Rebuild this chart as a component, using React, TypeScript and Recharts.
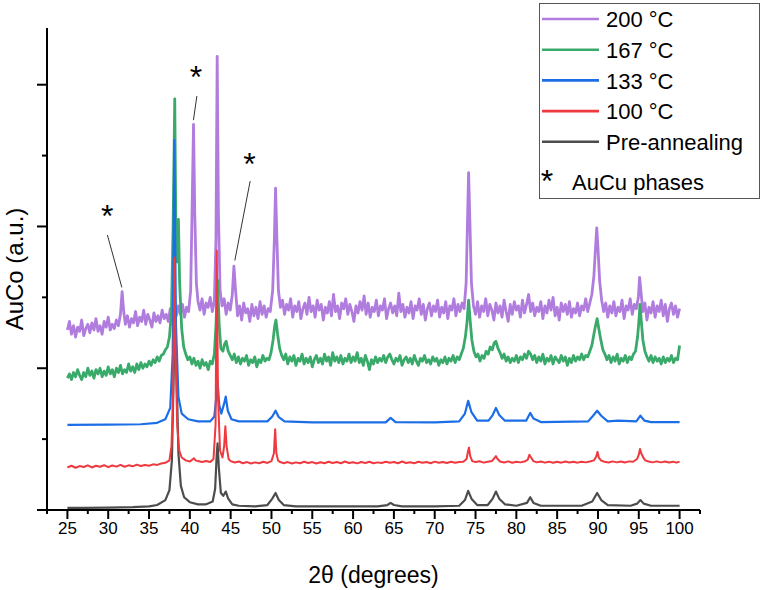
import { LineChart, Line, XAxis, YAxis, Legend, ReferenceLine, ReferenceDot, Label } from 'recharts';

const FONT = "'Liberation Sans', Arial, sans-serif";

// [2θ, intensity] pairs, curves already offset (a.u.)
const t200: [number, number][] = [
  [25, 1.27], [25.25, 1.33], [25.5, 1.24], [25.75, 1.3], [26, 1.22], [26.25, 1.29], [26.5, 1.26], [26.75, 1.34],
  [27, 1.23], [27.25, 1.28], [27.5, 1.31], [27.75, 1.25], [28, 1.32], [28.25, 1.27], [28.5, 1.35], [28.75, 1.26],
  [29, 1.3], [29.25, 1.24], [29.5, 1.33], [29.75, 1.29], [30, 1.36], [30.25, 1.27], [30.5, 1.31], [30.75, 1.28],
  [31, 1.34], [31.25, 1.3], [31.5, 1.38], [31.7, 1.54], [31.9, 1.4], [32.1, 1.31], [32.35, 1.37], [32.6, 1.29],
  [32.85, 1.35], [33.1, 1.32], [33.35, 1.4], [33.6, 1.3], [33.85, 1.36], [34.1, 1.33], [34.35, 1.41], [34.6, 1.31],
  [34.85, 1.38], [35.1, 1.34], [35.35, 1.29], [35.6, 1.39], [35.85, 1.33], [36.1, 1.37], [36.35, 1.32], [36.6, 1.41],
  [36.85, 1.35], [37.1, 1.38], [37.35, 1.33], [37.6, 1.42], [37.85, 1.36], [38.1, 1.4], [38.35, 1.37], [38.6, 1.44],
  [38.85, 1.38], [39.1, 1.45], [39.35, 1.36], [39.6, 1.43], [39.85, 1.4], [40.1, 1.55], [40.3, 2.2], [40.45, 2.72],
  [40.6, 2.1], [40.8, 1.6], [41, 1.47], [41.25, 1.41], [41.5, 1.49], [41.75, 1.38], [42, 1.46], [42.25, 1.43],
  [42.5, 1.5], [42.75, 1.4], [43, 1.47], [43.2, 1.9], [43.35, 3.2], [43.5, 2.1], [43.7, 1.55], [43.95, 1.44],
  [44.2, 1.49], [44.45, 1.38], [44.7, 1.46], [44.95, 1.41], [45.2, 1.52], [45.4, 1.72], [45.6, 1.55], [45.85, 1.37],
  [46.1, 1.44], [46.35, 1.34], [46.6, 1.46], [46.85, 1.39], [47.1, 1.42], [47.35, 1.33], [47.6, 1.45], [47.85, 1.37],
  [48.1, 1.43], [48.35, 1.35], [48.6, 1.47], [48.85, 1.38], [49.1, 1.44], [49.35, 1.36], [49.6, 1.42], [49.85, 1.4],
  [50.15, 1.55], [50.35, 1.9], [50.5, 2.27], [50.65, 1.95], [50.85, 1.55], [51.1, 1.43], [51.35, 1.48], [51.6, 1.38],
  [51.85, 1.45], [52.1, 1.41], [52.35, 1.49], [52.6, 1.36], [52.85, 1.44], [53.1, 1.4], [53.35, 1.47], [53.6, 1.35],
  [53.85, 1.42], [54.1, 1.46], [54.35, 1.38], [54.6, 1.5], [54.85, 1.4], [55.1, 1.44], [55.35, 1.36], [55.6, 1.48],
  [55.85, 1.41], [56.1, 1.45], [56.35, 1.34], [56.6, 1.43], [56.85, 1.39], [57.1, 1.47], [57.35, 1.37], [57.6, 1.52],
  [57.85, 1.4], [58.1, 1.44], [58.35, 1.35], [58.6, 1.46], [58.85, 1.42], [59.1, 1.49], [59.35, 1.38], [59.6, 1.45],
  [59.85, 1.4], [60.1, 1.33], [60.35, 1.44], [60.6, 1.39], [60.85, 1.47], [61.1, 1.41], [61.35, 1.51], [61.6, 1.38],
  [61.85, 1.46], [62.1, 1.36], [62.35, 1.43], [62.6, 1.4], [62.85, 1.48], [63.1, 1.37], [63.35, 1.44], [63.6, 1.41],
  [63.85, 1.49], [64.1, 1.35], [64.35, 1.42], [64.6, 1.46], [64.85, 1.39], [65.1, 1.44], [65.35, 1.37], [65.6, 1.53],
  [65.85, 1.4], [66.1, 1.45], [66.35, 1.36], [66.6, 1.43], [66.85, 1.39], [67.1, 1.47], [67.35, 1.35], [67.6, 1.44],
  [67.85, 1.41], [68.1, 1.49], [68.35, 1.38], [68.6, 1.45], [68.85, 1.34], [69.1, 1.42], [69.35, 1.46], [69.6, 1.37],
  [69.85, 1.44], [70.1, 1.4], [70.35, 1.48], [70.6, 1.36], [70.85, 1.43], [71.1, 1.39], [71.35, 1.47], [71.6, 1.35],
  [71.85, 1.44], [72.1, 1.41], [72.35, 1.49], [72.6, 1.37], [72.85, 1.45], [73.1, 1.4], [73.35, 1.46], [73.6, 1.42],
  [73.85, 1.6], [74, 2.0], [74.15, 2.38], [74.3, 2.05], [74.5, 1.6], [74.75, 1.44], [75, 1.38], [75.25, 1.47],
  [75.5, 1.36], [75.75, 1.44], [76, 1.4], [76.25, 1.49], [76.5, 1.37], [76.75, 1.45], [77, 1.41], [77.25, 1.34],
  [77.5, 1.46], [77.75, 1.39], [78, 1.44], [78.25, 1.36], [78.5, 1.48], [78.75, 1.4], [79, 1.33], [79.25, 1.45],
  [79.5, 1.38], [79.75, 1.47], [80, 1.41], [80.25, 1.44], [80.5, 1.36], [80.75, 1.48], [81, 1.39], [81.25, 1.45],
  [81.5, 1.52], [81.75, 1.4], [82, 1.46], [82.25, 1.37], [82.5, 1.43], [82.75, 1.4], [83, 1.47], [83.25, 1.35],
  [83.5, 1.44], [83.75, 1.39], [84, 1.48], [84.25, 1.41], [84.5, 1.5], [84.75, 1.37], [85, 1.43], [85.25, 1.34],
  [85.5, 1.46], [85.75, 1.4], [86, 1.45], [86.25, 1.38], [86.5, 1.47], [86.75, 1.36], [87, 1.42], [87.25, 1.39],
  [87.5, 1.46], [87.75, 1.37], [88, 1.44], [88.25, 1.41], [88.5, 1.49], [88.75, 1.4], [89, 1.46], [89.25, 1.52],
  [89.5, 1.65], [89.7, 1.85], [89.85, 1.99], [90, 1.85], [90.2, 1.62], [90.45, 1.48], [90.7, 1.4], [90.95, 1.46],
  [91.2, 1.36], [91.45, 1.44], [91.7, 1.39], [91.95, 1.47], [92.2, 1.37], [92.45, 1.43], [92.7, 1.4], [92.95, 1.48],
  [93.2, 1.35], [93.45, 1.44], [93.7, 1.41], [93.95, 1.49], [94.2, 1.38], [94.45, 1.45], [94.7, 1.42], [94.95, 1.5],
  [95.1, 1.64], [95.3, 1.52], [95.5, 1.4], [95.75, 1.46], [96, 1.34], [96.25, 1.43], [96.5, 1.39], [96.75, 1.47],
  [97, 1.36], [97.25, 1.44], [97.5, 1.4], [97.75, 1.48], [98, 1.37], [98.25, 1.45], [98.5, 1.33], [98.75, 1.42],
  [99, 1.46], [99.25, 1.38], [99.5, 1.44], [99.75, 1.36], [100, 1.42],
];

const t167: [number, number][] = [
  [25, 0.93], [25.25, 0.96], [25.5, 0.92], [25.75, 0.97], [26, 0.94], [26.25, 0.99], [26.5, 0.95], [26.75, 0.92],
  [27, 0.97], [27.25, 0.94], [27.5, 1.0], [27.75, 0.95], [28, 0.98], [28.25, 0.93], [28.5, 0.99], [28.75, 0.96],
  [29, 1.0], [29.25, 0.94], [29.5, 0.98], [29.75, 0.95], [30, 1.01], [30.25, 0.96], [30.5, 0.99], [30.75, 0.94],
  [31, 1.0], [31.25, 0.97], [31.5, 1.02], [31.75, 0.96], [32, 0.99], [32.25, 0.97], [32.5, 1.03], [32.75, 0.98],
  [33, 1.01], [33.25, 0.97], [33.5, 1.03], [33.75, 0.99], [34, 1.04], [34.25, 1.0], [34.5, 1.03], [34.75, 1.01],
  [35, 1.05], [35.25, 1.02], [35.5, 1.06], [35.75, 1.04], [36, 1.08], [36.25, 1.05], [36.5, 1.09], [36.75, 1.1],
  [37, 1.13], [37.25, 1.15], [37.5, 1.22], [37.75, 1.4], [37.95, 2.0], [38.15, 2.9], [38.3, 1.9], [38.45, 1.75],
  [38.6, 2.05], [38.75, 1.6], [39, 1.28], [39.25, 1.15], [39.5, 1.1], [39.75, 1.06], [40, 1.08], [40.25, 1.03],
  [40.5, 1.07], [40.75, 1.02], [41, 1.05], [41.25, 1.0], [41.5, 1.06], [41.75, 1.02], [42, 1.04], [42.25, 0.99],
  [42.5, 1.05], [42.75, 1.03], [43, 1.1], [43.2, 1.3], [43.4, 1.62], [43.6, 1.3], [43.8, 1.14], [44.05, 1.12],
  [44.25, 1.17], [44.45, 1.19], [44.7, 1.12], [44.95, 1.09], [45.2, 1.06], [45.45, 1.1], [45.7, 1.04], [45.95, 1.08],
  [46.2, 1.03], [46.45, 1.07], [46.7, 1.05], [46.95, 1.09], [47.2, 1.02], [47.45, 1.06], [47.7, 1.04], [47.95, 1.08],
  [48.2, 1.01], [48.45, 1.06], [48.7, 1.04], [48.95, 1.09], [49.2, 1.05], [49.45, 1.07], [49.7, 1.06], [49.95, 1.11],
  [50.2, 1.2], [50.4, 1.3], [50.55, 1.34], [50.75, 1.24], [51, 1.14], [51.25, 1.09], [51.5, 1.06], [51.75, 1.1],
  [52, 1.03], [52.25, 1.08], [52.5, 1.05], [52.75, 1.09], [53, 1.02], [53.25, 1.07], [53.5, 1.05], [53.75, 1.1],
  [54, 1.03], [54.25, 1.07], [54.5, 1.04], [54.75, 1.08], [55, 1.01], [55.25, 1.06], [55.5, 1.09], [55.75, 1.04],
  [56, 1.07], [56.25, 1.03], [56.5, 1.1], [56.75, 1.05], [57, 1.08], [57.25, 1.02], [57.5, 1.11], [57.75, 1.05],
  [58, 1.08], [58.25, 1.04], [58.5, 1.09], [58.75, 1.03], [59, 1.07], [59.25, 1.05], [59.5, 1.1], [59.75, 1.04],
  [60, 1.08], [60.25, 1.05], [60.5, 1.11], [60.75, 1.04], [61, 1.07], [61.25, 1.02], [61.5, 1.09], [61.75, 1.05],
  [62, 0.99], [62.25, 1.06], [62.5, 1.03], [62.75, 1.08], [63, 1.04], [63.25, 1.07], [63.5, 1.05], [63.75, 1.09],
  [64, 1.04], [64.25, 1.08], [64.5, 1.1], [64.75, 1.06], [65, 1.03], [65.25, 1.07], [65.5, 1.05], [65.75, 1.09],
  [66, 1.02], [66.25, 1.06], [66.5, 1.08], [66.75, 1.04], [67, 1.07], [67.25, 1.03], [67.5, 1.09], [67.75, 1.05],
  [68, 1.02], [68.25, 1.07], [68.5, 1.05], [68.75, 1.09], [69, 1.04], [69.25, 1.06], [69.5, 1.03], [69.75, 1.08],
  [70, 1.05], [70.25, 1.07], [70.5, 1.02], [70.75, 1.06], [71, 1.04], [71.25, 1.08], [71.5, 1.03], [71.75, 1.07],
  [72, 1.05], [72.25, 1.09], [72.5, 1.04], [72.75, 1.08], [73, 1.06], [73.25, 1.1], [73.5, 1.14], [73.75, 1.22],
  [73.95, 1.32], [74.15, 1.48], [74.35, 1.33], [74.55, 1.2], [74.8, 1.12], [75.05, 1.08], [75.3, 1.1], [75.55, 1.05],
  [75.8, 1.09], [76.05, 1.07], [76.3, 1.12], [76.55, 1.1], [76.8, 1.15], [77.05, 1.13], [77.3, 1.18], [77.5, 1.19],
  [77.75, 1.14], [78, 1.11], [78.25, 1.07], [78.5, 1.1], [78.75, 1.05], [79, 1.08], [79.25, 1.04], [79.5, 1.07],
  [79.75, 1.05], [80, 1.09], [80.25, 1.04], [80.5, 1.08], [80.75, 1.06], [81, 1.1], [81.25, 1.07], [81.5, 1.12],
  [81.75, 1.1], [82, 1.06], [82.25, 1.09], [82.5, 1.04], [82.75, 1.08], [83, 1.05], [83.25, 1.1], [83.5, 1.03],
  [83.75, 1.07], [84, 1.05], [84.25, 1.09], [84.5, 1.03], [84.75, 1.08], [85, 1.06], [85.25, 1.04], [85.5, 1.09],
  [85.75, 1.05], [86, 1.08], [86.25, 1.02], [86.5, 1.07], [86.75, 1.04], [87, 1.09], [87.25, 1.05], [87.5, 1.08],
  [87.75, 1.06], [88, 1.1], [88.25, 1.06], [88.5, 1.09], [88.75, 1.08], [89, 1.12], [89.25, 1.16], [89.5, 1.24],
  [89.7, 1.3], [89.9, 1.35], [90.1, 1.28], [90.35, 1.2], [90.6, 1.13], [90.85, 1.1], [91.1, 1.06], [91.35, 1.09],
  [91.6, 1.04], [91.85, 1.08], [92.1, 1.05], [92.35, 1.1], [92.6, 1.03], [92.85, 1.07], [93.1, 1.05], [93.35, 1.09],
  [93.6, 1.04], [93.85, 1.08], [94.1, 1.06], [94.35, 1.1], [94.6, 1.12], [94.85, 1.22], [95, 1.32], [95.15, 1.45],
  [95.3, 1.34], [95.5, 1.2], [95.75, 1.12], [96, 1.08], [96.25, 1.05], [96.5, 1.09], [96.75, 1.04], [97, 1.08],
  [97.25, 1.05], [97.5, 1.07], [97.75, 1.03], [98, 1.08], [98.25, 1.04], [98.5, 1.07], [98.75, 1.05], [99, 1.09],
  [99.25, 1.04], [99.5, 1.07], [99.75, 1.06], [100, 1.16],
];

const t133: [number, number][] = [
  [25, 0.6], [30, 0.602], [34, 0.605], [36, 0.615], [37, 0.64], [37.6, 0.72], [37.9, 1.1], [38.1, 2.61],
  [38.3, 1.3], [38.6, 0.8], [39, 0.68], [39.8, 0.64], [41, 0.625], [42.5, 0.625], [43, 0.66], [43.25, 0.8],
  [43.4, 0.9], [43.6, 0.74], [43.85, 0.68], [44.2, 0.75], [44.4, 0.8], [44.65, 0.7], [45.1, 0.64], [46, 0.625],
  [49.5, 0.625], [50.1, 0.66], [50.5, 0.7], [50.9, 0.655], [51.6, 0.625], [55, 0.618], [60, 0.618], [64, 0.618],
  [64.6, 0.65], [65.2, 0.62], [70, 0.618], [73, 0.625], [73.7, 0.68], [74.1, 0.77], [74.5, 0.69], [75.2, 0.63],
  [76.6, 0.63], [77.1, 0.67], [77.5, 0.72], [77.9, 0.67], [78.6, 0.63], [81.2, 0.63], [81.7, 0.685], [82.1, 0.645],
  [83, 0.62], [88.8, 0.625], [89.4, 0.665], [89.9, 0.7], [90.4, 0.665], [91.2, 0.625], [92.5, 0.63], [94.7, 0.625],
  [95.2, 0.665], [95.7, 0.63], [96.5, 0.62], [100, 0.62],
];

const t100: [number, number][] = [
  [25, 0.3], [25.5, 0.312], [26, 0.298], [26.5, 0.31], [27, 0.303], [27.5, 0.315], [28, 0.3], [28.5, 0.312],
  [29, 0.305], [29.5, 0.316], [30, 0.302], [30.5, 0.314], [31, 0.306], [31.5, 0.318], [32, 0.305], [32.5, 0.315],
  [33, 0.308], [33.5, 0.32], [34, 0.31], [34.5, 0.318], [35, 0.312], [35.5, 0.322], [36, 0.318], [36.5, 0.328],
  [37, 0.333], [37.5, 0.35], [37.75, 0.45], [37.95, 0.8], [38.1, 1.78], [38.25, 1.1], [38.45, 0.6], [38.7, 0.42],
  [39, 0.37], [39.5, 0.35], [40, 0.342], [40.3, 0.355], [40.5, 0.365], [40.7, 0.35], [41, 0.345], [41.5, 0.338],
  [42, 0.346], [42.5, 0.338], [42.9, 0.36], [43.15, 0.6], [43.3, 1.83], [43.45, 0.8], [43.7, 0.42], [44, 0.37],
  [44.2, 0.45], [44.35, 0.59], [44.5, 0.45], [44.75, 0.36], [45, 0.345], [45.5, 0.335], [46, 0.342], [46.5, 0.33],
  [47, 0.338], [47.5, 0.328], [48, 0.336], [48.5, 0.33], [49, 0.34], [49.5, 0.332], [50, 0.345], [50.3, 0.4],
  [50.45, 0.57], [50.6, 0.4], [50.8, 0.35], [51, 0.34], [51.5, 0.33], [52, 0.338], [52.5, 0.328], [53, 0.336],
  [53.5, 0.33], [54, 0.34], [54.5, 0.332], [55, 0.338], [55.5, 0.328], [56, 0.337], [56.5, 0.33], [57, 0.34],
  [57.5, 0.331], [58, 0.338], [58.5, 0.33], [59, 0.342], [59.5, 0.332], [60, 0.337], [60.5, 0.329], [61, 0.339],
  [61.5, 0.332], [62, 0.34], [62.5, 0.33], [63, 0.336], [63.5, 0.332], [64, 0.34], [64.5, 0.333], [65, 0.338],
  [65.5, 0.33], [66, 0.342], [66.5, 0.332], [67, 0.337], [67.5, 0.33], [68, 0.34], [68.5, 0.333], [69, 0.338],
  [69.5, 0.33], [70, 0.341], [70.5, 0.333], [71, 0.339], [71.5, 0.331], [72, 0.34], [72.5, 0.334], [73, 0.339],
  [73.5, 0.34], [73.9, 0.36], [74.1, 0.42], [74.2, 0.44], [74.35, 0.38], [74.6, 0.345], [75, 0.338], [75.5, 0.344],
  [76, 0.334], [76.5, 0.341], [77, 0.345], [77.3, 0.365], [77.5, 0.38], [77.7, 0.36], [78, 0.342], [78.5, 0.335],
  [79, 0.343], [79.5, 0.333], [80, 0.34], [80.5, 0.336], [81, 0.342], [81.4, 0.355], [81.6, 0.39], [81.8, 0.37],
  [82.1, 0.345], [82.5, 0.336], [83, 0.342], [83.5, 0.334], [84, 0.341], [84.5, 0.333], [85, 0.34], [85.5, 0.334],
  [86, 0.342], [86.5, 0.335], [87, 0.34], [87.5, 0.334], [88, 0.341], [88.5, 0.336], [89, 0.342], [89.5, 0.35],
  [89.8, 0.38], [89.95, 0.41], [90.1, 0.37], [90.4, 0.348], [90.8, 0.34], [91.3, 0.335], [91.8, 0.343], [92.3, 0.336],
  [92.8, 0.342], [93.3, 0.335], [93.8, 0.343], [94.3, 0.34], [94.8, 0.36], [95, 0.39], [95.15, 0.43], [95.3, 0.4],
  [95.55, 0.37], [95.8, 0.35], [96.2, 0.342], [96.7, 0.336], [97.2, 0.343], [97.7, 0.336], [98.2, 0.342], [98.7, 0.335],
  [99.2, 0.341], [99.6, 0.334], [100, 0.34],
];

const preAnnealing: [number, number][] = [
  [25, 0.015], [27, 0.015], [30, 0.017], [33, 0.02], [35, 0.025], [36, 0.035], [37, 0.07], [37.5, 0.14],
  [37.8, 0.35], [38, 0.9], [38.2, 1.45], [38.4, 0.9], [38.6, 0.4], [38.9, 0.17], [39.3, 0.09], [40, 0.055],
  [41, 0.04], [42, 0.04], [42.8, 0.06], [43.1, 0.15], [43.3, 0.4], [43.4, 0.47], [43.55, 0.3], [43.8, 0.12],
  [44.1, 0.1], [44.4, 0.13], [44.7, 0.08], [45.2, 0.04], [46, 0.03], [48, 0.025], [49.5, 0.035], [50.1, 0.08],
  [50.5, 0.12], [50.9, 0.07], [51.5, 0.035], [53, 0.025], [58, 0.025], [63, 0.025], [64.2, 0.035], [64.6, 0.05],
  [65, 0.035], [66, 0.025], [70, 0.025], [73, 0.03], [73.7, 0.07], [74.1, 0.135], [74.5, 0.08], [75.2, 0.035],
  [76.5, 0.035], [77.1, 0.08], [77.5, 0.13], [77.9, 0.08], [78.6, 0.04], [80, 0.03], [81.3, 0.05], [81.7, 0.09],
  [82.1, 0.05], [83, 0.03], [88, 0.03], [89.3, 0.06], [89.9, 0.12], [90.4, 0.07], [91.2, 0.035], [94, 0.03],
  [94.8, 0.045], [95.2, 0.07], [95.6, 0.045], [96.5, 0.03], [100, 0.03],
];

const xTicks = [22.5, 25, 27.5, 30, 32.5, 35, 37.5, 40, 42.5, 45, 47.5, 50, 52.5, 55, 57.5, 60, 62.5, 65, 67.5,
  70, 72.5, 75, 77.5, 80, 82.5, 85, 87.5, 90, 92.5, 95, 97.5, 100, 102.5];
const yTicks = [0, 0.5, 1, 1.5, 2, 2.5, 3];

// "*" marks for the AuCu phase peaks and their leader lines
const stars = [
  { x: 29.87, y: 2.13 },
  { x: 40.74, y: 3.11 },
  { x: 47.3, y: 2.5 },
];
const leaders = [
  [{ x: 29.9, y: 1.94 }, { x: 31.67, y: 1.57 }],
  [{ x: 40.86, y: 2.92 }, { x: 40.44, y: 2.75 }],
  [{ x: 47.39, y: 2.32 }, { x: 45.51, y: 1.76 }],
];

// drawn in this order (last on top); legend uses legendOrder
const seriesList = [
  { key: 'pre', name: 'Pre-annealing', color: '#4D4D4D', width: 2.2, data: preAnnealing },
  { key: 's200', name: '200 °C', color: '#B07CDE', width: 2.8, data: t200 },
  { key: 's167', name: '167 °C', color: '#3AAA6B', width: 2.8, data: t167 },
  { key: 's133', name: '133 °C', color: '#1C6EE6', width: 2.2, data: t133 },
  { key: 's100', name: '100 °C', color: '#F0393F', width: 2, data: t100 },
];
const legendOrder = ['s200', 's167', 's133', 's100', 'pre'];

const toPoints = (arr: [number, number][]) => arr.map(([x, y]) => ({ x, y }));

const XTick = (props: any) => {
  const { x, y, payload } = props;
  const major = payload.value % 5 === 0;
  return (
    <g>
      <line x1={x} x2={x} y1={y} y2={y + (major ? 9 : 4)} stroke="#000" strokeWidth={2} />
      {major && (
        <text x={x} y={y + 23.5} textAnchor="middle" fontSize={17} fontFamily={FONT} fill="#000">
          {payload.value}
        </text>
      )}
    </g>
  );
};

const YTick = (props: any) => {
  const { x, y, payload } = props;
  const major = Number.isInteger(payload.value);
  return <line x1={x - (major ? 10 : 5)} x2={x} y1={y} y2={y} stroke="#000" strokeWidth={2} />;
};

const LegendBox = () => (
  <svg width={221} height={196} style={{ display: 'block' }}>
    <rect x={0.5} y={0.5} width={220} height={195} fill="#fff" stroke="#555" strokeWidth={1} />
    {legendOrder.map((k, i) => {
      const s = seriesList.find((d) => d.key === k)!;
      return (
        <g key={k}>
          <line x1={3} x2={60} y1={16 + i * 30.7} y2={16 + i * 30.7} stroke={s.color} strokeWidth={2.6} />
          <text x={67} y={24.3 + i * 30.7} fontSize={22} fontFamily={FONT} fill="#000">{s.name}</text>
        </g>
      );
    })}
    <text x={8} y={189} textAnchor="middle" fontSize={32} fontFamily={FONT} fill="#000">*</text>
    <text x={33} y={187} fontSize={22} fontFamily={FONT} fill="#000">AuCu phases</text>
  </svg>
);

export default function App() {
  return (
    <div style={{ position: 'absolute', left: 0, top: 0, background: '#fff' }}>
      <LineChart width={762} height={590} margin={{ top: 28, right: 62, bottom: 0, left: 0 }}>
        <XAxis
          type="number"
          dataKey="x"
          domain={[22.5, 102.5]}
          ticks={xTicks}
          interval={0}
          allowDataOverflow
          height={80}
          tickSize={0}
          tickMargin={0}
          tickLine={false}
          tick={<XTick />}
          axisLine={{ stroke: '#000', strokeWidth: 2 }}
        >
          <Label
            content={(p: any) => {
              const vb = p.viewBox || { x: 47, y: 510, width: 653 };
              return (
                <text x={vb.x + vb.width / 2} y={vb.y + 73} textAnchor="middle" fontSize={23} fontFamily={FONT} fill="#000">
                  2θ (degrees)
                </text>
              );
            }}
          />
        </XAxis>
        <YAxis
          type="number"
          domain={[0, 3.4]}
          ticks={yTicks}
          interval={0}
          allowDataOverflow
          width={47}
          tickSize={0}
          tickMargin={0}
          tickLine={false}
          tick={<YTick />}
          axisLine={{ stroke: '#000', strokeWidth: 2 }}
        >
          <Label
            content={(p: any) => {
              const vb = p.viewBox || { x: 0, y: 28, height: 482 };
              const cx = 14;
              const cy = vb.y + vb.height / 2;
              return (
                <text x={cx} y={cy} transform={`rotate(-90 ${cx} ${cy})`} textAnchor="middle" dominantBaseline="central" fontSize={24} fontFamily={FONT} fill="#000">
                  AuCo (a.u.)
                </text>
              );
            }}
          />
        </YAxis>
        {seriesList.map((s) => (
          <Line
            key={s.key}
            data={toPoints(s.data)}
            dataKey="y"
            name={s.name}
            type="linear"
            stroke={s.color}
            strokeWidth={s.width}
            strokeLinejoin="round"
            dot={false}
            activeDot={false}
            isAnimationActive={false}
          />
        ))}
        {leaders.map((seg, i) => (
          <ReferenceLine key={`l${i}`} segment={seg} stroke="#333" strokeWidth={1} />
        ))}
        {stars.map((s, i) => (
          <ReferenceDot
            key={`s${i}`}
            x={s.x}
            y={s.y}
            r={0}
            shape={(p: any) => (
              <text x={p.cx} y={p.cy + 19} textAnchor="middle" fontSize={32} fontFamily={FONT} fill="#000">*</text>
            )}
          />
        ))}
        <Legend
          layout="horizontal"
          verticalAlign="middle"
          align="center"
          content={() => <LegendBox />}
          wrapperStyle={{ left: 539, top: 3, width: 221, height: 196 }}
        />
      </LineChart>
    </div>
  );
}
